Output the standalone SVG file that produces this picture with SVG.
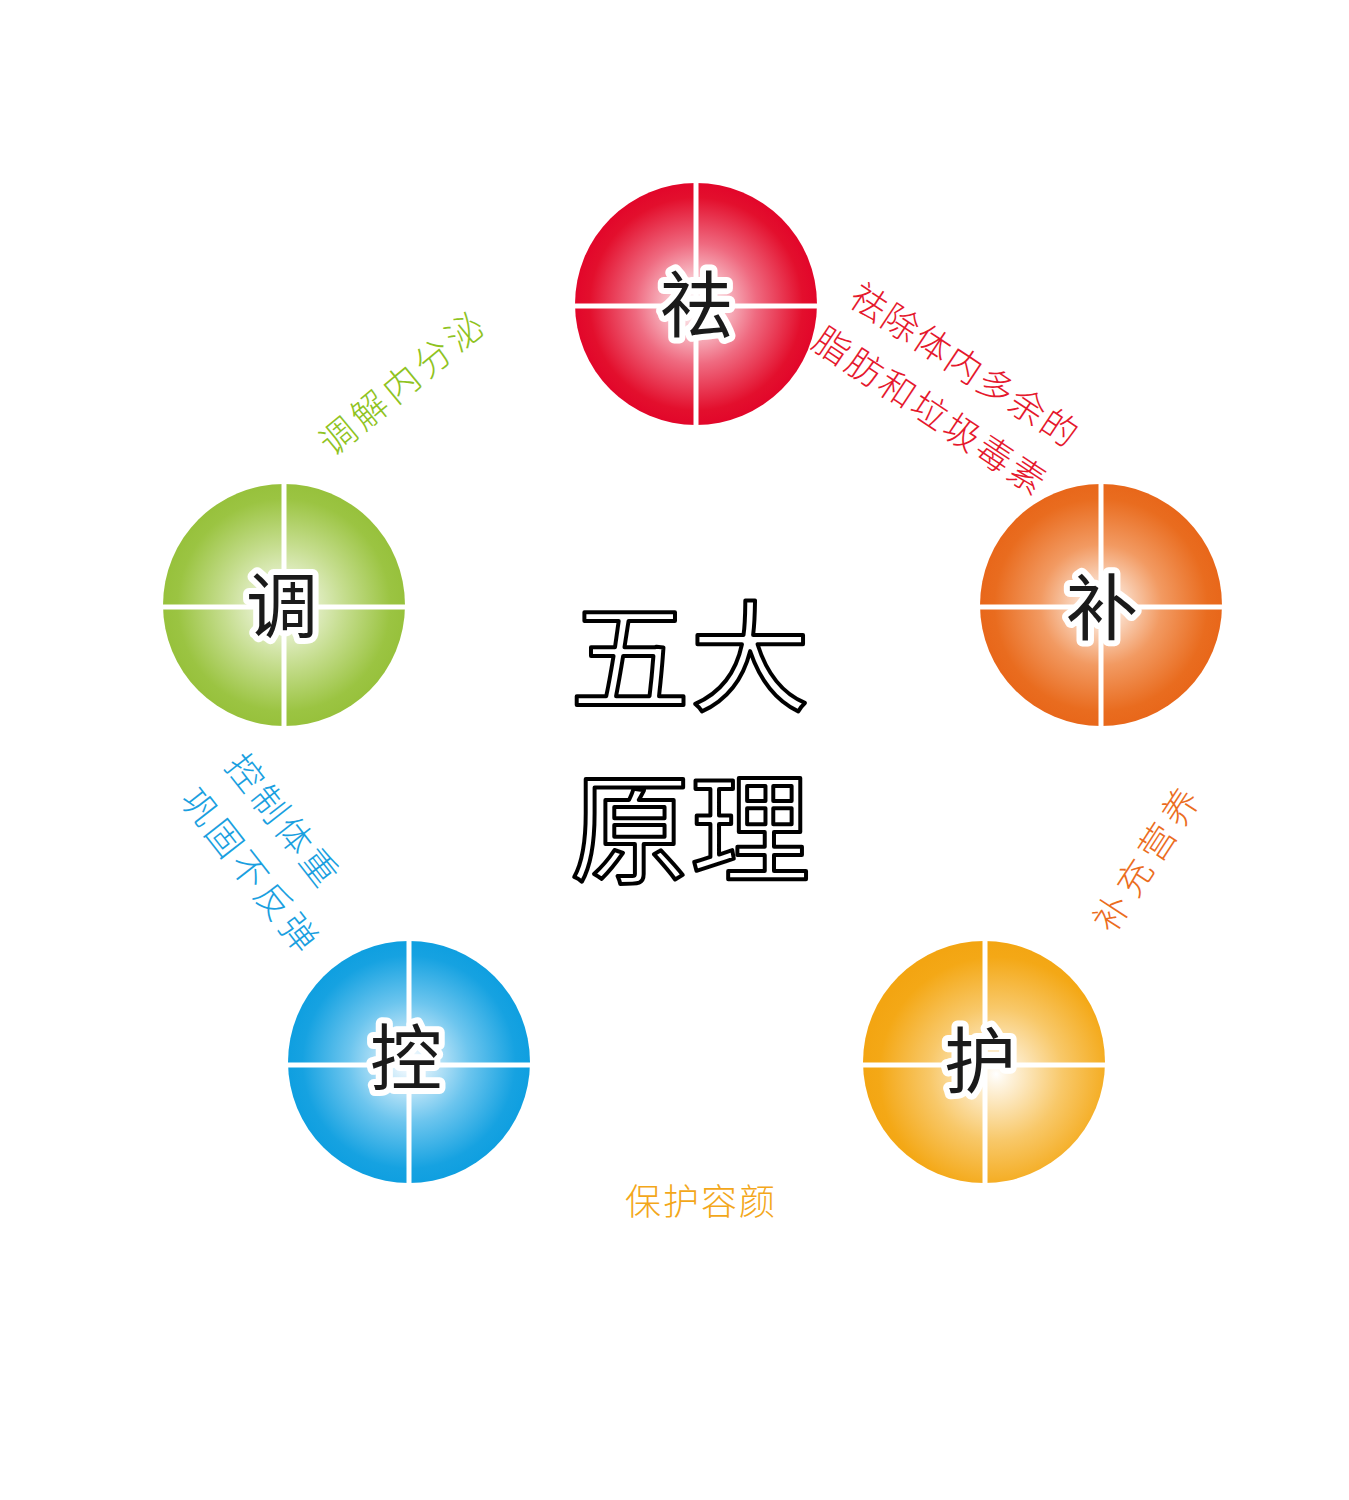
<svg xmlns="http://www.w3.org/2000/svg" width="1349" height="1500" viewBox="0 0 1349 1500">
<defs>
<radialGradient id="gRed" cx="0.5" cy="0.5" r="0.5"><stop offset="0" stop-color="#ffffff"/><stop offset="0.08" stop-color="#fdf0f2"/><stop offset="0.5" stop-color="#ef6a80"/><stop offset="0.88" stop-color="#e30f2d"/><stop offset="1" stop-color="#e2062a"/></radialGradient>
<radialGradient id="gOrange" cx="0.5" cy="0.5" r="0.5"><stop offset="0" stop-color="#ffffff"/><stop offset="0.08" stop-color="#fdf1e8"/><stop offset="0.5" stop-color="#f29a62"/><stop offset="0.88" stop-color="#e96c1f"/><stop offset="1" stop-color="#e8671a"/></radialGradient>
<radialGradient id="gYellow" cx="0.55" cy="0.55" r="0.55"><stop offset="0" stop-color="#ffffff"/><stop offset="0.08" stop-color="#fef5e4"/><stop offset="0.5" stop-color="#f8c869"/><stop offset="0.88" stop-color="#f4a816"/><stop offset="1" stop-color="#f3a512"/></radialGradient>
<radialGradient id="gGreen" cx="0.5" cy="0.5" r="0.5"><stop offset="0" stop-color="#ffffff"/><stop offset="0.08" stop-color="#f5f9ea"/><stop offset="0.5" stop-color="#c5dd8e"/><stop offset="0.88" stop-color="#9bc442"/><stop offset="1" stop-color="#97c13c"/></radialGradient>
<radialGradient id="gBlue" cx="0.5" cy="0.5" r="0.5"><stop offset="0" stop-color="#ffffff"/><stop offset="0.08" stop-color="#eaf6fd"/><stop offset="0.5" stop-color="#6cc5ee"/><stop offset="0.88" stop-color="#16a2e1"/><stop offset="1" stop-color="#0f9fe0"/></radialGradient>
</defs>
<style>
.cross{stroke:#ffffff;stroke-width:5}
.ch{font-family:"Noto Sans CJK SC","Noto Sans CJK JP",sans-serif;font-size:72px;fill:#1a1a1a;stroke:#ffffff;stroke-width:12;stroke-linejoin:round;paint-order:stroke;text-anchor:middle}
.big{font-family:"Noto Sans CJK SC","Noto Sans CJK JP",sans-serif;font-size:120px;fill:#ffffff;stroke:#000000;stroke-width:4;stroke-linejoin:round;text-anchor:middle}
.lbl{font-family:"Noto Sans CJK SC","Noto Sans CJK JP",sans-serif;font-size:36px;font-weight:300;text-anchor:middle}
.red{fill:#e5182d}.green{fill:#8fc31f}.blue{fill:#1a9fe0}.orange{fill:#eb6d1e}.yellow{fill:#f3a71a}
</style>
<rect width="1349" height="1500" fill="#ffffff"/>
<g id="connectors"></g>

<g id="node-qu">
<circle cx="696" cy="304" r="121" fill="url(#gRed)"/>
<line class="cross" x1="696" y1="183" x2="696" y2="425"/>
<line class="cross" x1="575" y1="306" x2="817" y2="306"/>
<text class="ch" x="696" y="331">祛</text>
</g>

<g id="node-bu">
<circle cx="1101" cy="605" r="121" fill="url(#gOrange)"/>
<line class="cross" x1="1101" y1="484" x2="1101" y2="726"/>
<line class="cross" x1="980" y1="607" x2="1222" y2="607"/>
<text class="ch" x="1102" y="634">补</text>
</g>

<g id="node-hu">
<circle cx="984" cy="1062" r="121" fill="url(#gYellow)"/>
<line class="cross" x1="985" y1="941" x2="985" y2="1183"/>
<line class="cross" x1="863" y1="1065" x2="1105" y2="1065"/>
<text class="ch" x="980" y="1087">护</text>
</g>

<g id="node-kong">
<circle cx="409" cy="1062" r="121" fill="url(#gBlue)"/>
<line class="cross" x1="409" y1="941" x2="409" y2="1183"/>
<line class="cross" x1="288" y1="1065" x2="530" y2="1065"/>
<text class="ch" x="406" y="1084">控</text>
</g>

<g id="node-tiao">
<circle cx="284" cy="605" r="121" fill="url(#gGreen)"/>
<line class="cross" x1="284" y1="484" x2="284" y2="726"/>
<line class="cross" x1="163" y1="607" x2="405" y2="607"/>
<text class="ch" x="282" y="632">调</text>
</g>

<g id="center">
<text class="big" x="690" y="702">五大</text>
<text class="big" x="690" y="874">原理</text>
</g>

<g id="labels">
<g transform="translate(964,365) rotate(33.5)"><text class="lbl red" x="1" y="13" letter-spacing="2">祛除体内多余的</text></g>
<g transform="translate(930,411) rotate(33.6)"><text class="lbl red" x="1" y="13" letter-spacing="3">脂肪和垃圾毒素</text></g>
<g transform="translate(401,383) rotate(-39.6)"><text class="lbl green" x="2" y="14" font-size="38" letter-spacing="5">调解内分泌</text></g>
<g transform="translate(282,820) rotate(52)"><text class="lbl blue" x="2" y="13" letter-spacing="4">控制体重</text></g>
<g transform="translate(249,870) rotate(52)"><text class="lbl blue" x="2" y="13" letter-spacing="4">巩固不反弹</text></g>
<g transform="translate(1146,860) rotate(-57)"><text class="lbl orange" x="3" y="13" letter-spacing="6">补充营养</text></g>
<text class="lbl yellow" x="701" y="1215" font-size="42" letter-spacing="2">保护容颜</text>
</g>
</svg>
